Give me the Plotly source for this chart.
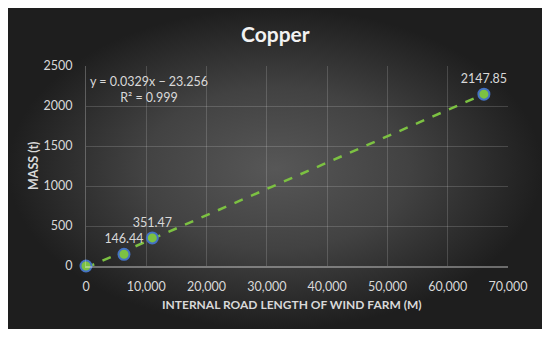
import plotly.graph_objects as go

# data
road_length = [0, 6300, 11000, 66000]
mass = [0, 146.44, 351.47, 2147.85]
labels = ["", "146.44", "351.47", "2147.85"]

slope = 0.0329
intercept = -23.256
r2 = 0.999

x_ticks = [0, 10000, 20000, 30000, 40000, 50000, 60000, 70000]
y_ticks = [0, 500, 1000, 1500, 2000, 2500]

GREEN = "#7cc142"
BLUE = "#4472c4"
TEXT = "#d9d9d9"
FONT = "Lato, 'Open Sans', sans-serif"

# page has an 8px body margin, so the figure is sized to sit inside the white frame
W, H = 534, 321
PLOT_L, PLOT_R, PLOT_T, PLOT_B = 78, 500, 58, 258

fig = go.Figure()

# dark card with a radial glow (full-figure background subplot)
fig.add_trace(go.Scatter(
    x=[0, 1, 1, 0, 0], y=[0, 0, 1, 1, 0], mode="lines", fill="toself",
    line=dict(width=0),
    fillgradient=dict(type="radial",
                      colorscale=[[0, "#575757"], [0.5, "#424242"], [1, "#1e1e1e"]]),
    hoverinfo="skip", showlegend=False, xaxis="x", yaxis="y"
))

# linear trendline
trend_x = [min(road_length), max(road_length)]
trend_y = [slope * x + intercept for x in trend_x]
fig.add_trace(go.Scatter(
    x=trend_x, y=trend_y, mode="lines",
    line=dict(color=GREEN, width=2.5, dash="dash"),
    hoverinfo="skip", showlegend=False, xaxis="x2", yaxis="y2"
))

fig.add_trace(go.Scatter(
    x=road_length, y=mass, mode="markers+text",
    text=labels, textposition="top center",
    textfont=dict(color=TEXT, size=12.5, family=FONT),
    marker=dict(color=GREEN, size=11, line=dict(color=BLUE, width=2)),
    showlegend=False, cliponaxis=False, xaxis="x2", yaxis="y2"
))

fig.update_layout(
    width=W, height=H,
    margin=dict(l=0, r=0, t=0, b=0, pad=0),
    paper_bgcolor="#262626",
    plot_bgcolor="rgba(0,0,0,0)",
    font=dict(family=FONT, color=TEXT, size=12),
    xaxis=dict(domain=[0, 1], range=[0, 1], visible=False, fixedrange=True, automargin=False),
    yaxis=dict(domain=[0, 1], range=[0, 1], visible=False, fixedrange=True, automargin=False),
    xaxis2=dict(
        domain=[PLOT_L / W, PLOT_R / W], anchor="y2", automargin=False,
        range=[0, 70000], tickvals=x_ticks, tickformat=",",
        showgrid=True, gridcolor="rgba(255,255,255,0.16)", gridwidth=1,
        zeroline=False, showline=True, linecolor="rgba(255,255,255,0.35)", linewidth=2,
        tickfont=dict(size=12.5, color=TEXT), ticks="", ticklabelstandoff=8,
    ),
    yaxis2=dict(
        domain=[1 - PLOT_B / H, 1 - PLOT_T / H], anchor="x2", automargin=False,
        range=[0, 2500], tickvals=y_ticks,
        showgrid=True, gridcolor="rgba(255,255,255,0.16)", gridwidth=1,
        zeroline=False, showline=True, linecolor="rgba(255,255,255,0.25)", linewidth=1,
        tickfont=dict(size=12.5, color=TEXT), ticks="", ticklabelstandoff=10,
    ),
    annotations=[
        dict(x=267 / W, y=1 - 25 / H, xref="paper", yref="paper",
             xanchor="center", yanchor="middle",
             text="<b>Copper</b>", showarrow=False,
             font=dict(size=21, color="#f2f2f2", family=FONT)),
        dict(x=284 / W, y=1 - 296 / H, xref="paper", yref="paper",
             xanchor="center", yanchor="middle",
             text="<b>INTERNAL ROAD LENGTH OF WIND FARM (M)</b>", showarrow=False,
             font=dict(size=12, color=TEXT, family=FONT)),
        dict(x=25 / W, y=1 - 158 / H, xref="paper", yref="paper", textangle=-90,
             xanchor="center", yanchor="middle",
             text="<b>MASS (t)</b>", showarrow=False,
             font=dict(size=12.5, color=TEXT, family=FONT)),
        dict(x=80 / W, y=1 - 64 / H, xref="paper", yref="paper",
             xanchor="left", yanchor="top", align="center",
             text=f"y = {slope}x − {abs(intercept)}<br>R² = {r2}", showarrow=False,
             font=dict(size=12.5, color=TEXT, family=FONT)),
    ],
)

fig.write_html("out.html")
